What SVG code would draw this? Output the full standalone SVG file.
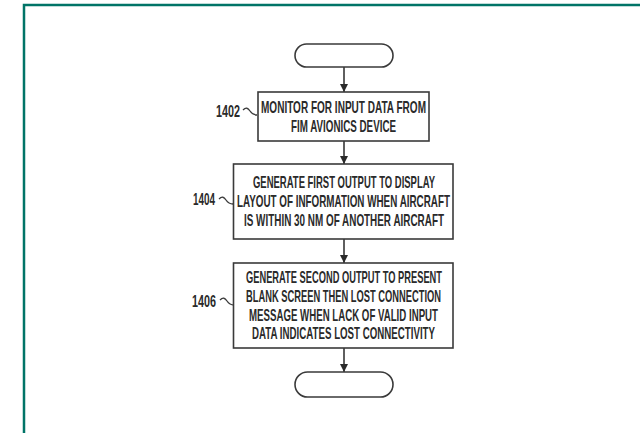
<svg xmlns="http://www.w3.org/2000/svg" width="640" height="433" viewBox="0 0 640 433">
<defs>
<style>
.frame{fill:none;stroke:#007467;stroke-width:2.5}
.box{fill:#fff;stroke:#3a3a3a;stroke-width:1.6}
.t{font-family:"Liberation Sans",Arial,sans-serif;font-weight:bold;font-size:16.5px;fill:#2a2a2a;text-anchor:middle}
.lbl{font-family:"Liberation Sans",Arial,sans-serif;font-weight:bold;font-size:16.5px;fill:#2a2a2a;text-anchor:middle}
.edge{fill:none;stroke:#2a2a2a;stroke-width:1.5}
.tilde{fill:none;stroke:#3a3a3a;stroke-width:1.3}
</style>
<marker id="ah" viewBox="0 0 8 8" refX="8" refY="4" markerWidth="8" markerHeight="8" markerUnits="userSpaceOnUse" orient="auto">
<path d="M0,0 L8,4 L0,8 Z" fill="#2a2a2a"/>
</marker>
</defs>
<rect width="640" height="433" fill="#fff"/>
<path class="frame" d="M24,433 V5 H640"/>
<g id="connectors">
<path class="edge" d="M344,67 V92" marker-end="url(#ah)"/>
<path class="edge" d="M344,141 V164" marker-end="url(#ah)"/>
<path class="edge" d="M344,239 V263" marker-end="url(#ah)"/>
<path class="edge" d="M344,348 V372" marker-end="url(#ah)"/>
</g>
<g id="start">
<rect class="box" x="295" y="44" width="98" height="23" rx="11.5"/>
</g>
<g id="n1402">
<rect class="box" x="258" y="92" width="171" height="49"/>
<text class="t" x="343.5" y="113" textLength="165" lengthAdjust="spacingAndGlyphs">MONITOR FOR INPUT DATA FROM</text>
<text class="t" x="343.5" y="132" textLength="105" lengthAdjust="spacingAndGlyphs">FIM AVIONICS DEVICE</text>
<text class="lbl" x="228" y="117" textLength="24" lengthAdjust="spacingAndGlyphs">1402</text>
<path class="tilde" d="M243,110 C246,107 248,108 250,111 S254,115 257,115"/>
</g>
<g id="n1404">
<rect class="box" x="233.5" y="164" width="219.5" height="75"/>
<text class="t" x="344" y="188" textLength="182" lengthAdjust="spacingAndGlyphs">GENERATE FIRST OUTPUT TO DISPLAY</text>
<text class="t" x="343.5" y="207" textLength="213" lengthAdjust="spacingAndGlyphs">LAYOUT OF INFORMATION WHEN AIRCRAFT</text>
<text class="t" x="344" y="226" textLength="200" lengthAdjust="spacingAndGlyphs">IS WITHIN 30 NM OF ANOTHER AIRCRAFT</text>
<text class="lbl" x="204" y="205" textLength="22" lengthAdjust="spacingAndGlyphs">1404</text>
<path class="tilde" d="M219,199 C222,196 224,197 226,200 S230,204 233,204"/>
</g>
<g id="n1406">
<rect class="box" x="233.5" y="263" width="219.5" height="85"/>
<text class="t" x="344" y="283" textLength="196" lengthAdjust="spacingAndGlyphs">GENERATE SECOND OUTPUT TO PRESENT</text>
<text class="t" x="343.5" y="302" textLength="195" lengthAdjust="spacingAndGlyphs">BLANK SCREEN THEN LOST CONNECTION</text>
<text class="t" x="343.5" y="321" textLength="189" lengthAdjust="spacingAndGlyphs">MESSAGE WHEN LACK OF VALID INPUT</text>
<text class="t" x="343.5" y="339" textLength="183" lengthAdjust="spacingAndGlyphs">DATA INDICATES LOST CONNECTIVITY</text>
<text class="lbl" x="204" y="307" textLength="24" lengthAdjust="spacingAndGlyphs">1406</text>
<path class="tilde" d="M220,300 C223,297 225,298 227,301 S231,305 234,305"/>
</g>
<g id="end">
<rect class="box" x="295" y="372" width="98" height="25" rx="12.5"/>
</g>
</svg>
